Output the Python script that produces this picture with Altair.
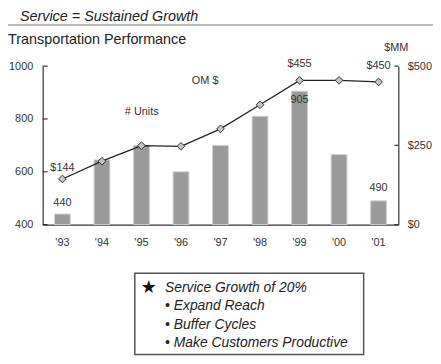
import altair as alt
import pandas as pd

FONT = "Liberation Sans"

years = ["'93", "'94", "'95", "'96", "'97", "'98", "'99", "'00", "'01"]
units = [440, 645, 700, 600, 700, 810, 905, 665, 490]
om = [144, 200, 249, 247, 302, 378, 455, 455, 450]

unit_ticks = [400, 600, 800, 1000]
om_ticks = [0, 250, 500]

unit_label_years = ["'93", "'99", "'01"]
unit_label_text = ["440", "905", "490"]
unit_label_dy = [-11, 9, -13]

om_label_years = ["'93", "'99", "'01"]
om_label_text = ["$144", "$455", "$450"]
om_label_dy = [-11, -16, -16]

title_text = "Service = Sustained Growth"
subtitle_text = "Transportation Performance"
box_lines = ["Service Growth of 20%", "\u2022 Expand Reach", "\u2022 Buffer Cycles",
             "\u2022 Make Customers Productive"]

W, H = 359, 160

df = pd.DataFrame({"year": years, "units": units, "om": om})

xenc = alt.X("year:N", sort=years,
             scale=alt.Scale(paddingInner=0.6, paddingOuter=0.3),
             axis=alt.Axis(title=None, labelAngle=0, ticks=False, domainColor="#333",
                           domainWidth=1.2, labelPadding=12, labelFontSize=11,
                           labelFont=FONT, labelColor="#333", grid=False))

u_scale = alt.Scale(domain=[400, 1000], zero=False, nice=False)
o_scale = alt.Scale(domain=[0, 500], zero=False, nice=False)

u_axis = alt.Axis(title=None, orient="left", values=unit_ticks, ticks=False, grid=False,
                  format="d", domainColor="#333", domainWidth=1.2, labelPadding=10,
                  labelFontSize=11, labelFont=FONT, labelColor="#333")
o_axis = alt.Axis(title=None, orient="right", values=om_ticks, ticks=False,
                  grid=False, domainColor="#333", domainWidth=1.2,
                  labelPadding=9, labelFontSize=11, labelFont=FONT,
                  labelColor="#333", labelExpr="'$' + datum.value")

yU = alt.Y("units:Q", scale=u_scale, axis=u_axis)
yO = alt.Y("om:Q", scale=o_scale, axis=o_axis)

bars = alt.Chart(df).mark_bar(color="#9a9a9a", stroke="#d0d0d0", strokeWidth=1).encode(
    x=xenc, y=yU, y2=alt.datum(400))

uticks = alt.Chart(pd.DataFrame({"units": unit_ticks})).mark_rule(
    color="#333", strokeWidth=1.2).encode(y=yU, x=alt.value(0), x2=alt.value(5))

ulabels = []
for yr, t, d in zip(unit_label_years, unit_label_text, unit_label_dy):
    sub = df[df.year == yr].assign(lab=t)
    ulabels.append(alt.Chart(sub).mark_text(
        font=FONT, fontSize=11, color="#333", dy=d).encode(
        x=xenc, y=yU, text="lab:N"))

groupA = alt.layer(bars, uticks, *ulabels)

line = alt.Chart(df).mark_line(color="#222", strokeWidth=1.3).encode(x=xenc, y=yO)
pts = alt.Chart(df).mark_point(shape="diamond", filled=True, fill="#c4c4c4",
                               stroke="#333", strokeWidth=1, size=60, opacity=1).encode(
    x=xenc, y=yO)
oticks = alt.Chart(pd.DataFrame({"om": om_ticks})).mark_rule(
    color="#333", strokeWidth=1.2).encode(y=yO, x=alt.value(W), x2=alt.value(W - 4))

olabels = []
for yr, t, d in zip(om_label_years, om_label_text, om_label_dy):
    sub = df[df.year == yr].assign(lab=t)
    olabels.append(alt.Chart(sub).mark_text(
        font=FONT, fontSize=11, color="#333", dy=d).encode(
        x=xenc, y=yO, text="lab:N"))

groupB = alt.layer(line, pts, oticks, *olabels)


def note(text, x, y, size=11, align="center", style="normal", font=FONT, weight="normal",
         color="#333"):
    return alt.Chart(pd.DataFrame({"t": [text]})).mark_text(
        font=font, fontSize=size, align=align, baseline="middle", fontStyle=style,
        fontWeight=weight, color=color).encode(
        x=alt.value(x), y=alt.value(y), text="t:N")


notes = [
    note("# Units", 100, 46),
    note("OM $", 164, 15),
    note("$MM", 357, -18),
    note(title_text, -23, -50, size=14.5, align="left", style="italic", color="#222"),
    note(subtitle_text, -35, -26, size=14.5, align="left", color="#222"),
]

title_rule = alt.Chart(pd.DataFrame({"t": [0]})).mark_rule(
    color="#777", strokeWidth=1.2).encode(
    x=alt.value(-38), x2=alt.value(394), y=alt.value(-41.5))

box = alt.Chart(pd.DataFrame({"t": [0]})).mark_rect(
    fill="white", stroke="#555", strokeWidth=1.5).encode(
    x=alt.value(93), x2=alt.value(324), y=alt.value(209), y2=alt.value(291))

star = note("\u2605", 107, 224, size=18, font="DejaVu Sans", color="#111")
box_texts = [note(t, 123.5, 224 + i * 18.5, size=14, align="left", style="italic",
                  color="#222")
             for i, t in enumerate(box_lines)]

chart = alt.layer(groupA, groupB, title_rule, *notes, box, star, *box_texts).resolve_scale(
    y="independent").properties(
    width=W, height=H,
    padding={"left": 35, "top": 57, "right": 35, "bottom": 135},
    autosize=alt.AutoSizeParams(type="none"),
).configure_view(stroke=None)

chart.save("out.html", embed_options={"renderer": "svg", "actions": False})
